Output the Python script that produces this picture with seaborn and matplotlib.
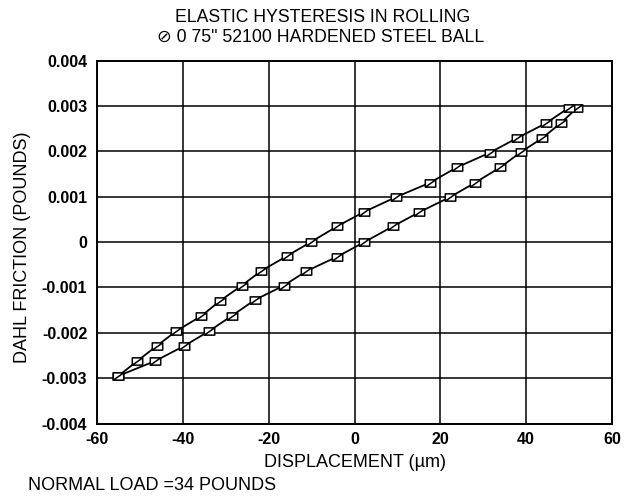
import numpy as np
import pandas as pd
import matplotlib
matplotlib.use("Agg")
import matplotlib.pyplot as plt
from matplotlib.path import Path
import seaborn as sns

# ---- data ----
# loading branch (lower/right curve), from bottom-left to top-right
lower_x = [-55.0, -46.4, -39.7, -34.0, -28.5, -23.3, -16.5, -11.2, -4.0, 2.3,
           9.0, 15.1, 22.2, 28.1, 34.0, 38.7, 43.7, 48.0, 51.9]
lower_y = [-0.00295, -0.00262, -0.00229, -0.00197, -0.00162, -0.00128, -0.00096,
           -0.00064, -0.00032, 0.0, 0.00035, 0.00066, 0.00099, 0.00131, 0.00165,
           0.00198, 0.00229, 0.00262, 0.00296]
# unloading branch (upper/left curve), from top-right to bottom-left
upper_x = [49.9, 44.6, 37.8, 31.5, 23.9, 17.6, 9.6, 2.1, -4.0, -10.2,
           -15.8, -21.8, -26.3, -31.4, -35.7, -41.5, -46.1, -50.6, -55.0]
upper_y = [0.00296, 0.00262, 0.00229, 0.00197, 0.00165, 0.00131, 0.00099,
           0.00066, 0.00035, 0.0, -0.00031, -0.00064, -0.00096, -0.00130,
           -0.00163, -0.00196, -0.00229, -0.00262, -0.00295]

x_ticks = [-60, -40, -20, 0, 20, 40, 60]
x_tick_labels = ["-60", "-40", "-20", "0", "20", "40", "60"]
y_ticks = [-0.004, -0.003, -0.002, -0.001, 0.0, 0.001, 0.002, 0.003, 0.004]
y_tick_labels = ["-0.004", "-0.003", "-0.002", "-0.001", "0",
                 "0.001", "0.002", "0.003", "0.004"]

title_lines = ["ELASTIC HYSTERESIS IN ROLLING",
               "\u2298 0 75\" 52100 HARDENED STEEL BALL"]
x_label = "DISPLACEMENT (\u00b5m)"
y_label = "DAHL FRICTION (POUNDS)"
note = "NORMAL LOAD =34 POUNDS"

# ---- style ----
sns.set_theme(style="white")
plt.rcParams["font.family"] = ["Liberation Sans", "DejaVu Sans"]

fig = plt.figure(figsize=(6.35, 5.0), dpi=100)
W, H = 635, 500
left, right, top, bottom = 97, 612, 60.7, 423.5
ax = fig.add_axes([left / W, 1 - bottom / H, (right - left) / W, (bottom - top) / H])

# square marker with a diagonal stroke
marker_path = Path(
    [(-1, -0.7), (1, -0.7), (1, 0.7), (-1, 0.7), (-1, -0.7), (-1, -0.7), (1, 0.7)],
    [Path.MOVETO, Path.LINETO, Path.LINETO, Path.LINETO, Path.CLOSEPOLY,
     Path.MOVETO, Path.LINETO])

df_lower = pd.DataFrame({"x": lower_x, "y": lower_y})
df_upper = pd.DataFrame({"x": upper_x, "y": upper_y})
for d in (df_lower, df_upper):
    sns.lineplot(data=d, x="x", y="y", ax=ax, sort=False, estimator=None,
                 color="black", linewidth=1.3, marker=marker_path,
                 markersize=7.5, markerfacecolor="white",
                 markeredgecolor="black", markeredgewidth=1.1, zorder=3)

ax.set_xlim(-60, 60)
ax.set_ylim(-0.004, 0.004)
ax.set_xticks(x_ticks)
ax.set_xticklabels(x_tick_labels, fontsize=11.5, fontweight="bold")
ax.set_yticks(y_ticks)
ax.set_yticklabels(y_tick_labels, fontsize=11.5, fontweight="bold")
ax.tick_params(axis="both", direction="out", length=6, width=1.2,
               color="black", labelcolor="black", pad=1)
ax.tick_params(axis="x", pad=0)
ax.grid(True, color="black", linewidth=1.1)
ax.set_axisbelow(True)
for s in ax.spines.values():
    s.set_color("black")
    s.set_linewidth(1.4)

ax.set_xlabel(x_label, fontsize=13, color="black")
ax.xaxis.set_label_coords(0.5, -0.085)
ax.set_ylabel(y_label, fontsize=13, color="black")
ax.yaxis.set_label_coords(-0.128, 0.485)

fig.text(323 / W, 1 - 18 / H, title_lines[0], ha="center", va="center",
         fontsize=12.7, color="black")
fig.text(321 / W, 1 - 37 / H, title_lines[1], ha="center", va="center",
         fontsize=12.7, color="black")
fig.text(28 / W, 1 - 485 / H, note, ha="left", va="center",
         fontsize=13, color="black")

fig.savefig("out.png", dpi=100, facecolor="white")
